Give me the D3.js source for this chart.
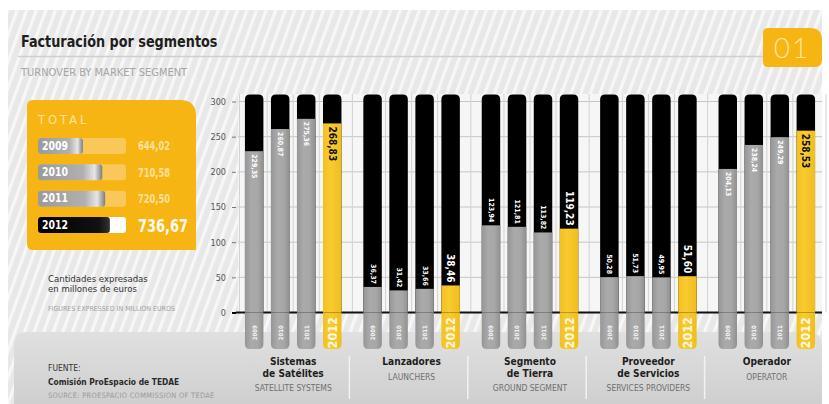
<!DOCTYPE html>
<html>
<head>
<meta charset="utf-8">
<script src="https://cdn.jsdelivr.net/npm/d3@7"></script>
<style>
  html, body { margin: 0; padding: 0; background: #fff; }
  svg { display: block; }
  text.c { font-stretch: condensed; }
</style>
</head>
<body>
<svg id="chart" width="829" height="404"></svg>
<script>
// ---- data ----
const years = ["2009", "2010", "2011", "2012"];
const segmentKeys = ["sat", "lan", "tie", "pro", "ope"];
const segmentLines = [["Sistemas", "de Satélites"], ["Lanzadores"], ["Segmento", "de Tierra"], ["Proveedor", "de Servicios"], ["Operador"]];
const segmentEnglish = ["SATELLITE SYSTEMS", "LAUNCHERS", "GROUND SEGMENT", "SERVICES PROVIDERS", "OPERATOR"];
const values2009 = [229.35, 36.37, 123.94, 50.28, 204.13];
const values2010 = [260.87, 31.42, 121.81, 51.73, 238.24];
const values2011 = [275.36, 33.66, 113.82, 49.95, 249.29];
const values2012 = [268.83, 38.46, 119.23, 51.60, 258.53];
const totals = [644.02, 710.58, 720.50, 736.67];
const yTicks = [0, 50, 100, 150, 200, 250, 300];

const seriesByYear = [values2009, values2010, values2011, values2012];
const rows = [];
segmentKeys.forEach((k, i) => years.forEach((y, j) => rows.push({ seg: k, year: y, value: seriesByYear[j][i] })));

const fmt = d3.formatLocale({ decimal: ",", thousands: ".", grouping: [3], currency: ["", "€"] }).format(".2f");
const COND = "'DejaVu Sans Condensed','Liberation Sans Narrow','DejaVu Sans',sans-serif";
const YEL = "#f6b512";

const svg = d3.select("#chart");
const defs = svg.append("defs");

// condensed text; sx narrows the glyphs a little further
function txt(sel) { return sel.append("text").attr("class", "c").attr("font-family", COND); }
function txtAt(sel, x, y, sx) {
  return txt(sel).attr("transform", `translate(${x},${y}) scale(${sx || 1},1)`);
}

// diagonal stripe background
const pat = defs.append("pattern").attr("id", "stripes").attr("patternUnits", "userSpaceOnUse")
  .attr("width", 9).attr("height", 9).attr("patternTransform", "rotate(20)");
pat.append("rect").attr("width", 9).attr("height", 9).attr("fill", "#e8e8e8");
pat.append("rect").attr("width", 3.2).attr("height", 9).attr("fill", "#f7f7f7");

// cylinder shading for bars
function hGrad(id, stops) {
  const g = defs.append("linearGradient").attr("id", id).attr("x1", "0").attr("x2", "1").attr("y1", "0").attr("y2", "0");
  stops.forEach(([o, c]) => g.append("stop").attr("offset", o).attr("stop-color", c));
}
hGrad("gGray", [[0, "#969696"], [0.35, "#aaaaaa"], [0.7, "#a7a7a7"], [1, "#909090"]]);
hGrad("gYel", [[0, "#f2c020"], [0.4, "#f9cb30"], [1, "#efbd1e"]]);
hGrad("gPanelGray", [[0, "#9a9a9a"], [0.7, "#b0b0b0"], [0.88, "#e6e6e6"], [1, "#7d7d7d"]]);
hGrad("gPanelBlack", [[0, "#000"], [0.85, "#111"], [1, "#333"]]);
const vg = defs.append("linearGradient").attr("id", "gFoot").attr("x1", 0).attr("x2", 0).attr("y1", 0).attr("y2", 1);
vg.append("stop").attr("offset", 0).attr("stop-color", "#e0e0e0");
vg.append("stop").attr("offset", 1).attr("stop-color", "#cfcfcf");

svg.append("rect").attr("x", 0).attr("y", 0).attr("width", 829).attr("height", 404).attr("fill", "#fff");
svg.append("rect").attr("x", 8).attr("y", 10).attr("width", 814).attr("height", 394).attr("fill", "url(#stripes)");

// ---- header ----
txtAt(svg, 21, 47, 0.89).text("Facturación por segmentos")
  .attr("font-weight", "bold").attr("font-size", 16).attr("fill", "#1e1e1e");
svg.append("line").attr("x1", 18).attr("x2", 765).attr("y1", 56.5).attr("y2", 56.5).attr("stroke", "#cfcfcf").attr("stroke-width", 1.5);
txtAt(svg, 21, 76, 1).text("TURNOVER BY MARKET SEGMENT")
  .attr("font-size", 11).attr("fill", "#a5a5a5");

// badge
svg.append("path").attr("d", "M768,28 H810 Q822,28 822,40 V60 Q822,67 815,67 H768 Q763,67 763,62 V33 Q763,28 768,28 Z").attr("fill", YEL);
svg.append("text").attr("x", 792).attr("y", 58).attr("text-anchor", "middle").text("01")
  .attr("font-family", "Lato, 'Open Sans', sans-serif").attr("font-weight", 300).attr("font-size", 28)
  .attr("fill", "#fde6a2").attr("letter-spacing", 2);

// ---- footer panel ----
svg.append("path").attr("d", "M14,404 V345 Q14,332 27,332 H808 Q822,332 822,346 V404 Z").attr("fill", "url(#gFoot)");

// ---- scales ----
const x0 = d3.scaleBand().domain(segmentKeys).range([234, 826]).padding(0);
const x1 = d3.scaleBand().domain(years).range([0, x0.bandwidth()]).paddingInner(0.29).paddingOuter(0.42);
const y = d3.scaleLinear().domain([0, 300]).range([312.5, 101.5]);

// plot background and grid
const plotL = 238, plotR = 822;
svg.append("rect").attr("x", plotL).attr("y", 94).attr("width", plotR - plotL).attr("height", y(0) - 94).attr("fill", "#f6f6f6");
svg.append("g").selectAll("line").data(yTicks.filter(d => d > 0)).join("line")
  .attr("x1", plotL).attr("x2", plotR).attr("y1", d => y(d)).attr("y2", d => y(d))
  .attr("stroke", "#c6c6c6").attr("stroke-width", 1);
// vertical grid between bars and between segments
const vLines = [];
segmentKeys.forEach(k => {
  years.forEach((yr, j) => {
    if (j > 0) vLines.push(x0(k) + (x1(years[j - 1]) + x1.bandwidth() + x1(yr)) / 2);
  });
  vLines.push(x0(k) + x0.bandwidth());
});
vLines.push(x0(segmentKeys[0]) + x1(years[0]) / 2);
svg.append("g").selectAll("line").data(vLines).join("line")
  .attr("x1", d => d).attr("x2", d => d).attr("y1", 94).attr("y2", y(0))
  .attr("stroke", "#d2d2d2").attr("stroke-width", 1);

// y axis
const yAxis = svg.append("g").attr("transform", "translate(236,0)")
  .call(d3.axisLeft(y).tickValues(yTicks).tickSize(4).tickPadding(6));
yAxis.select(".domain").remove();
yAxis.selectAll("text").attr("class", "c").attr("font-family", COND).attr("font-size", 9).attr("fill", "#555");
yAxis.selectAll("line").attr("stroke", "#777");
yAxis.selectAll(".tick").filter(d => d === 0).select("line").attr("stroke", "#000").attr("stroke-width", 2);

// zero baseline
svg.append("line").attr("x1", 236).attr("x2", plotR).attr("y1", y(0)).attr("y2", y(0))
  .attr("stroke", "#111").attr("stroke-width", 2);

// ---- bars ----
const barTop = 94.5, barBottom = 349;
const bw = x1.bandwidth();
const groups = svg.append("g").selectAll("g").data(rows).join("g")
  .attr("transform", d => `translate(${x0(d.seg) + x1(d.year)},0)`);

function roundedTop(w, h, r) {
  return `M0,${h} V${r} Q0,0 ${r},0 H${w - r} Q${w},0 ${w},${r} V${h} Z`;
}
function roundedBottom(w, h, r) {
  return `M0,0 H${w} V${h - r} Q${w},${h} ${w - r},${h} H${r} Q0,${h} 0,${h - r} Z`;
}

// black track
groups.append("path").attr("transform", `translate(0,${barTop})`)
  .attr("d", roundedTop(bw, y(0) - barTop + 1, 5)).attr("fill", "#000");
// value fill
groups.append("rect").attr("x", 0).attr("width", bw)
  .attr("y", d => y(d.value)).attr("height", d => y(0) - y(d.value))
  .attr("fill", d => d.year === "2012" ? "url(#gYel)" : "url(#gGray)");
// foot below zero
groups.append("path").attr("transform", `translate(0,${y(0)})`)
  .attr("d", roundedBottom(bw, barBottom - y(0), 5))
  .attr("fill", d => d.year === "2012" ? "url(#gYel)" : "url(#gGray)");

// year labels in the foot
txt(groups)
  .attr("transform", d => `translate(${bw / 2},${(y(0) + barBottom) / 2 + 2}) rotate(-90)`)
  .attr("text-anchor", "middle").attr("dominant-baseline", "central")
  .attr("font-weight", "bold")
  .attr("font-size", d => d.year === "2012" ? 12.5 : 6)
  .attr("fill", d => d.year === "2012" ? "#fff8e0" : "#f4f4f4")
  .text(d => d.year);

// value labels: inside the bar for tall bars, on the black track above for short ones
txt(groups)
  .attr("transform", d => {
    const inside = d.value > 200;
    return `translate(${bw / 2},${inside ? y(d.value) + 3 : y(d.value) - 3}) rotate(90)`;
  })
  .attr("text-anchor", d => d.value > 200 ? "start" : "end")
  .attr("dominant-baseline", "central")
  .attr("font-weight", "bold")
  .attr("font-size", d => d.year === "2012" ? 10 : 7)
  .attr("fill", d => (d.year === "2012" && d.value > 200) ? "#111" : "#fff")
  .text(d => fmt(d.value));

// segment names
const segLabels = svg.append("g").selectAll("g").data(segmentKeys).join("g")
  .attr("transform", d => `translate(${x0(d) + x0.bandwidth() / 2},0)`);
segLabels.each(function (k, i) {
  const g = d3.select(this);
  const lines = segmentLines[i];
  lines.forEach((t, li) => txtAt(g, 0, 365 + li * 11.5, 0.92).attr("text-anchor", "middle")
    .attr("font-weight", "bold").attr("font-size", 11).attr("fill", "#1e1e1e").text(t));
  txt(g).attr("y", 366 + lines.length * 11.5 + 2).attr("text-anchor", "middle")
    .attr("font-size", 8.5).attr("fill", "#6f6f6f").text(segmentEnglish[i]);
});
// separators between segment names
svg.append("g").selectAll("line").data(segmentKeys.slice(1)).join("line")
  .attr("x1", d => x0(d) - 3).attr("x2", d => x0(d) - 3).attr("y1", 356).attr("y2", 399)
  .attr("stroke", "#f2f2f2").attr("stroke-width", 1.5);

// source
txt(svg).attr("x", 48).attr("y", 371).text("FUENTE:")
  .attr("font-size", 8.5).attr("fill", "#333");
txtAt(svg, 48, 385, 0.93).text("Comisión ProEspacio de TEDAE")
  .attr("font-weight", "bold").attr("font-size", 9).attr("fill", "#2a2a2a");
txt(svg).attr("x", 48).attr("y", 398).text("SOURCE: PROESPACIO COMMISSION OF TEDAE")
  .attr("font-size", 7.4).attr("letter-spacing", 0.3).attr("fill", "#9a9a9a");

// ---- total panel ----
svg.append("path").attr("d", "M33,100 H180 Q196,100 196,116 V250 H33 Q27,250 27,244 V106 Q27,100 33,100 Z").attr("fill", YEL);
svg.append("text").attr("x", 38).attr("y", 124).text("TOTAL")
  .attr("font-family", "'DejaVu Sans', sans-serif").attr("font-size", 11.5).attr("letter-spacing", 3)
  .attr("fill", "#fde3a0");

const xTot = d3.scaleLinear().domain([490, 792]).range([0, 88]);
const rowY = d3.scalePoint().domain(years).range([146, 225]);
const tot = svg.append("g").selectAll("g").data(years).join("g")
  .attr("transform", d => `translate(38,${rowY(d)})`);
tot.append("rect").attr("x", 0).attr("y", -8).attr("width", 88).attr("height", 16).attr("rx", 3)
  .attr("fill", d => d === "2012" ? "#ffffff" : "#f9c75a");
tot.append("rect").attr("x", 0).attr("y", -8).attr("height", 16).attr("rx", 3)
  .attr("width", (d, i) => xTot(totals[i]))
  .attr("fill", d => d === "2012" ? "url(#gPanelBlack)" : "url(#gPanelGray)");
tot.each(function (d) {
  txtAt(d3.select(this), 4, 0, 0.9).attr("dominant-baseline", "central")
    .attr("font-weight", "bold").attr("font-size", 11.5).attr("fill", "#fff").text(d);
});
tot.each(function (d, i) {
  const big = d === "2012";
  txtAt(d3.select(this), big ? 100 : 100, big ? 1 : 0, 0.8).attr("dominant-baseline", "central")
    .attr("font-weight", "bold")
    .attr("font-size", big ? 18 : 11.5)
    .attr("fill", big ? "#fffaf0" : "#fde2a0")
    .text(fmt(totals[i]));
});

txt(svg).attr("x", 48).attr("y", 282).text("Cantidades expresadas")
  .attr("font-size", 9.5).attr("fill", "#333");
txt(svg).attr("x", 48).attr("y", 292).text("en millones de euros")
  .attr("font-size", 9.5).attr("fill", "#333");
txt(svg).attr("x", 48).attr("y", 311).text("FIGURES EXPRESSED IN MILLION EUROS")
  .attr("font-size", 7).attr("fill", "#a0a0a0");
</script>
</body>
</html>
